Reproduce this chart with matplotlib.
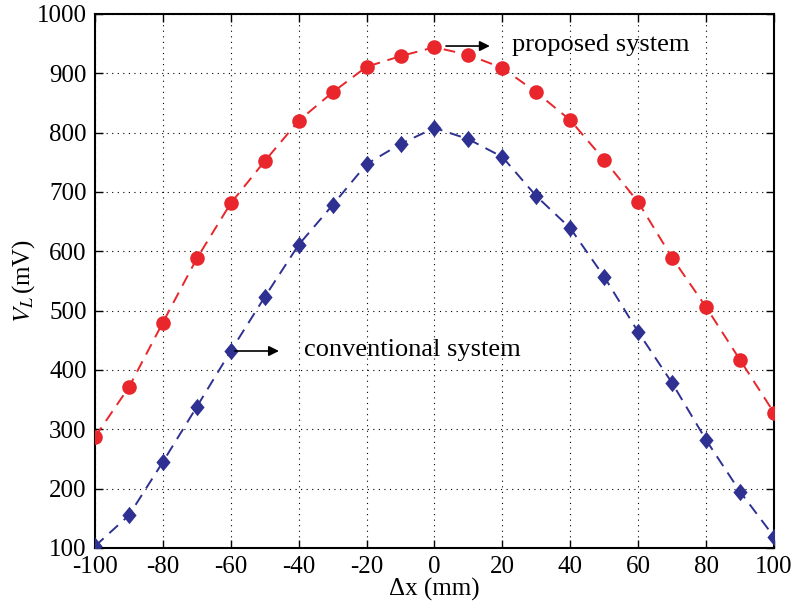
import matplotlib
matplotlib.use("Agg")
import matplotlib.pyplot as plt

plt.rcParams['font.family'] = ['Liberation Serif', 'DejaVu Serif']
plt.rcParams['mathtext.fontset'] = 'stix'
plt.rcParams['axes.unicode_minus'] = False

dx = [-100, -90, -80, -70, -60, -50, -40, -30, -20, -10, 0, 10, 20, 30, 40, 50, 60, 70, 80, 90, 100]
proposed = [287, 371, 480, 588, 681, 752, 820, 868, 911, 929, 944, 931, 909, 868, 821, 754, 683, 589, 506, 417, 328]
conventional = [103, 155, 245, 338, 432, 523, 611, 678, 747, 781, 808, 789, 759, 693, 639, 557, 464, 378, 282, 195, 119]
xticks = list(range(-100, 101, 20))
yticks = list(range(100, 1001, 100))

fig = plt.figure(figsize=(7.94, 6.08), dpi=100)
ax = fig.add_axes([0.1196, 0.0987, 0.8552, 0.8783])

diamond = [(0, 1), (0.82, 0), (0, -1), (-0.82, 0), (0, 1)]

ax.plot(dx, proposed, linestyle=(0, (6, 4)), color='#E8262B', lw=1.4,
        marker='o', markersize=10.5, markeredgewidth=0, zorder=3)
ax.plot(dx, conventional, linestyle=(0, (6, 4)), color='#2E3192', lw=1.4,
        marker=diamond, markersize=12.5, markeredgewidth=0, zorder=3)

ax.set_xlim(-100, 100)
ax.set_ylim(100, 1000)
ax.set_xticks(xticks)
ax.set_yticks(yticks)
ax.grid(True, linestyle=(0, (1, 4)), color='black', lw=0.8)
ax.tick_params(direction='in', top=True, right=True, labelsize=18, length=6, width=1, pad=6)
for s in ax.spines.values():
    s.set_linewidth(1.5)

ax.set_xlabel('Δx (mm)', fontsize=18, labelpad=0)
ax.set_ylabel('$V_L\\,$(mV)', fontsize=18)
ax.yaxis.set_label_coords(-0.086, 0.5)

arrow = dict(arrowstyle='-|>', color='black', lw=1.2, mutation_scale=15, shrinkA=0, shrinkB=0)
ax.annotate('', xy=(16.3, 946), xytext=(3.4, 946), arrowprops=arrow)
ax.text(22.8, 948, 'proposed system', fontsize=19, va='center', ha='left')

ax.annotate('', xy=(-45.8, 432), xytext=(-58.8, 432), arrowprops=arrow)
ax.text(-38.4, 434, 'conventional system', fontsize=19, va='center', ha='left')

fig.savefig('out.png', dpi=100)
